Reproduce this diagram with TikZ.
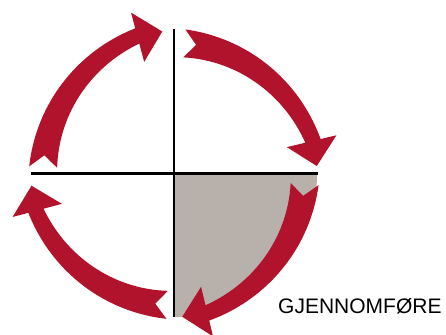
\documentclass[tikz,border=0pt]{standalone}
\usepackage{fontspec}
\setmainfont{Liberation Sans}
\definecolor{cyclered}{RGB}{176,19,43}
\definecolor{quadgray}{RGB}{184,176,171}
\begin{document}
\begin{tikzpicture}[x=1pt,y=-1pt,
  axisline/.style={line width=2.2pt,black},
  cyclearrow/.style={fill=cyclered,draw=none},
  label/.style={font=\fontsize{21}{24}\selectfont,anchor=base west,inner sep=0pt}]
\useasboundingbox (0,0) rectangle (446,334);
% shaded quadrant (lower right)
\fill[quadgray] (174,174) -- (317,174) arc[start angle=0,end angle=90,radius=143] -- cycle;
% axes
\draw[axisline] (30.5,173.5) -- (317.5,173.5);
\draw[axisline] (174,29) -- (174,317);
% four tapered circular arrows, clockwise
\foreach \q in {270.9,0.8,89.4,179.4}{
  \fill[cyclearrow]
    ({174+145*cos(\q+3.6)},{174+145*sin(\q+3.6)})
    -- plot[domain=0:1,samples=40]
       ({174+(145-10.25*\x+16*\x*\x)*cos(\q+3.6+72.1*\x)},
        {174+(145-10.25*\x+16*\x*\x)*sin(\q+3.6+72.1*\x)})
    -- ({174+167*cos(\q+75.7)},{174+167*sin(\q+75.7)})
    -- ({174+143*cos(\q+85.9)},{174+143*sin(\q+85.9)})
    -- ({174+116*cos(\q+75.7)},{174+116*sin(\q+75.7)})
    -- plot[domain=1:0,samples=40]
       ({174+(117+4*\x+14*\x*\x)*cos(\q+3.6+72.1*\x)},
        {174+(117+4*\x+14*\x*\x)*sin(\q+3.6+72.1*\x)})
    -- ({174+131*cos(\q+8.8)},{174+131*sin(\q+8.8)})
    -- cycle;
}
\node[label] (phase) at (278,313) {GJENNOMFØRE};
\end{tikzpicture}
\end{document}
